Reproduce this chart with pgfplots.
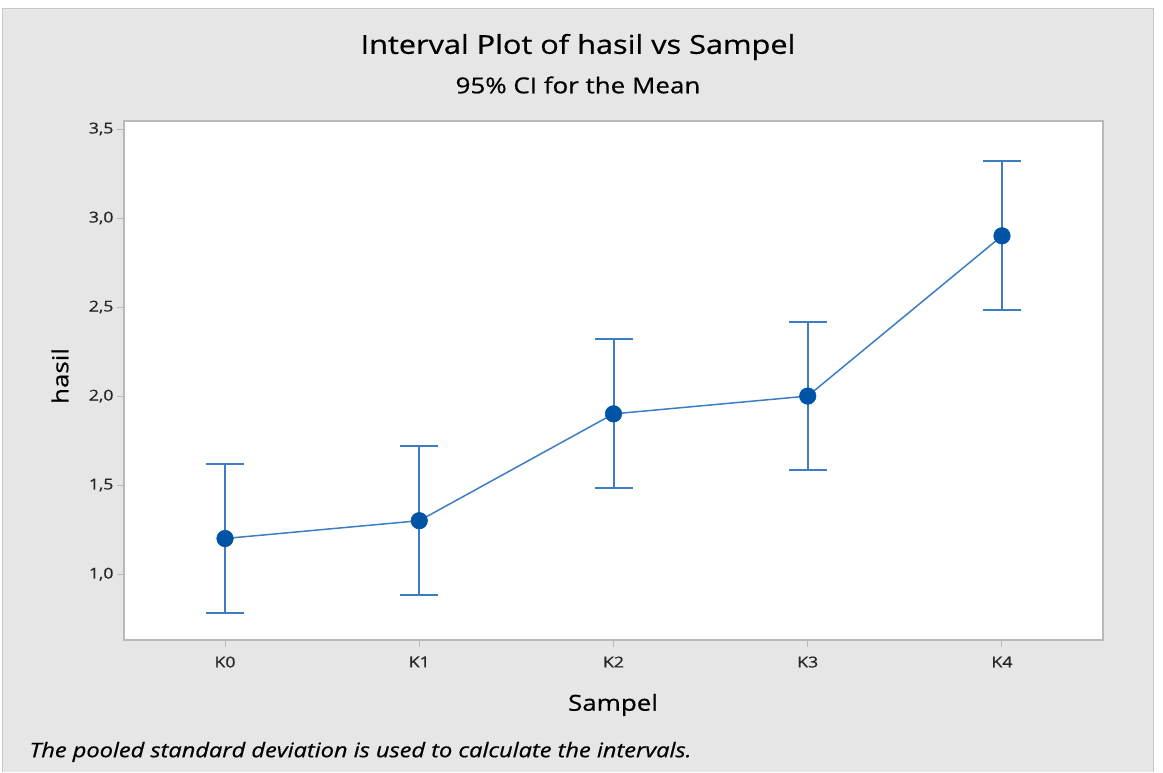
\documentclass[border=0pt]{standalone}
\usepackage{pgfplots}
\pgfplotsset{compat=1.18}
\usepackage{fontspec}
\setmainfont{Open Sans}[FakeStretch=1.18, FakeBold=0.6]
\definecolor{bg}{RGB}{230,230,230}
\definecolor{frame}{RGB}{185,185,185}
\definecolor{linec}{RGB}{60,125,196}
\definecolor{markc}{RGB}{0,84,166}
\pgfplotstableread{
x y e
0 1.20 0.418
1 1.30 0.418
2 1.90 0.418
3 2.00 0.418
4 2.90 0.418
}\datatab
\begin{document}
\begin{tikzpicture}[x=1pt,y=1pt]
\fill[white] (0,0) rectangle (1163,772);
\fill[bg] (2,0) rectangle (1154,764);
\draw[frame!80,line width=1pt] (2.5,0) -- (2.5,763.5) -- (1153.5,763.5) -- (1153.5,0);
\node[font=\fontsize{26}{31}\selectfont] at (578,725) {Interval Plot of hasil vs Sampel};
\node[font=\fontsize{22}{26}\selectfont] at (578,687) {95\% CI for the Mean};
\node[font=\fontsize{22}{26}\selectfont] at (613,67) {Sampel};
\node[font=\fontsize{22}{26}\selectfont,rotate=90] at (60,396) {hasil};
\node[font=\fontsize{20}{24}\selectfont\itshape,anchor=west] at (26,20) {The pooled standard deviation is used to calculate the intervals.};
\begin{axis}[
  at={(124pt,132pt)}, anchor=south west,
  scale only axis, width=979pt, height=519pt,
  xmin=-0.52, xmax=4.52, ymin=0.63, ymax=3.545,
  xtick={0,1,2,3,4}, xticklabels={K0,K1,K2,K3,K4},
  ytick={1,1.5,2,2.5,3,3.5},
  xtick pos=bottom, ytick pos=left,
  yticklabel style={/pgf/number format/.cd, use comma, fixed, fixed zerofill, precision=1},
  /pgf/number format/assume math mode=true,
  ticklabel style={font=\fontsize{15}{18}\selectfont, text=black!85},
  tick align=outside, major tick length=7pt,
  tick style={frame, line width=1pt},
  axis line style={frame, line width=2pt},
  axis background/.style={fill=white},
  x tick label style={yshift=-6pt},
]
\addplot[linec, line width=1.5pt, mark=*, mark size=8.3pt,
  mark options={fill=markc, draw=markc, line width=0.5pt},
  error bars/.cd, y dir=both, y explicit,
  error bar style={linec, line width=2pt},
  error mark=|, error mark options={linec, line width=2pt, mark size=19pt}]
  table[x=x, y=y, y error=e] {\datatab};
\end{axis}
\end{tikzpicture}
\end{document}
